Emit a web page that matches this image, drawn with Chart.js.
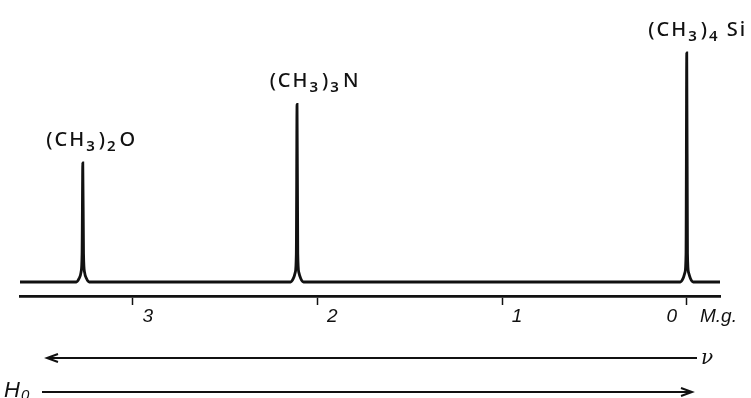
<!DOCTYPE html>
<html>
<head>
<meta charset="utf-8">
<script src="https://cdn.jsdelivr.net/npm/chart.js@4.4.1/dist/chart.umd.min.js"></script>
<style>
  html, body { margin: 0; padding: 0; background: #fff; }
  #wrap { width: 751px; height: 398px; position: relative; }
</style>
</head>
<body>
<div id="wrap"><canvas id="nmr"></canvas></div>
<script>
// spectrum trace: chemical shift (ppm) and signal intensity, read point by point
const ppmValues = [
  3.62, 3.305, 3.29, 3.28, 3.274, 3.27, 3.266, 3.26, 3.25, 3.235,
  2.145, 2.13, 2.12, 2.114, 2.11, 2.106, 2.10, 2.09, 2.075,
  0.035, 0.02, 0.01, 0.004, 0.0, -0.004, -0.01, -0.02, -0.035, -0.18
];
const intensityValues = [
  0, 0, 1.5, 4, 12, 51, 12, 4, 1.5, 0,
  0, 1.5, 4, 12, 76, 12, 4, 1.5, 0,
  0, 1.5, 4, 12, 98, 12, 4, 1.5, 0, 0
];

// axis ticks (ppm) and their labels
const tickValues = [3, 2, 1, 0];
const tickLabels = ['3', '2', '1', '0\u2002\u2002\u2009M.g.'];

// peaks and the compound names written above them
const peakShifts = [3.27, 2.11, 0];
const peakHeights = [51, 76, 98];
const peakNames = [
  [['(CH', 0], ['3', 1], [')', 0], ['2', 1], ['O', 0]],
  [['(CH', 0], ['3', 1], [')', 0], ['3', 1], ['N', 0]],
  [['(CH', 0], ['3', 1], [')', 0], ['4', 1], ['\u2009Si', 0]]
];

const INK = '#111';

function drawFormula(ctx, parts, cx, baseY) {
  const big = '500 20px "Noto Sans"';
  const small = '600 15px "Noto Sans"';
  ctx.save();
  ctx.letterSpacing = '2px';
  let w = 0;
  parts.forEach(([t, sub]) => { ctx.font = sub ? small : big; w += ctx.measureText(t).width + (sub ? 2 : 0); });
  let x = cx - w / 2;
  ctx.fillStyle = INK;
  ctx.textAlign = 'left';
  ctx.textBaseline = 'alphabetic';
  parts.forEach(([t, sub]) => {
    ctx.font = sub ? small : big;
    ctx.fillText(t, x, sub ? baseY + 5 : baseY);
    x += ctx.measureText(t).width + (sub ? 2 : 0);
  });
  ctx.restore();
}

function arrow(ctx, x1, x2, y, headAtLeft) {
  ctx.beginPath();
  ctx.moveTo(x1, y);
  ctx.lineTo(x2, y);
  const hx = headAtLeft ? x1 : x2;
  const d = headAtLeft ? 11 : -11;
  ctx.moveTo(hx + d, y - 4);
  ctx.lineTo(hx, y);
  ctx.lineTo(hx + d, y + 4);
  ctx.stroke();
}

const labelsPlugin = {
  id: 'nmrLabels',
  afterDraw(chart, args, opts) {
    const ctx = chart.ctx;
    const xs = chart.scales.x, ys = chart.scales.y;
    const area = chart.chartArea;

    // compound names over each peak
    peakShifts.forEach((s, i) => {
      const px = xs.getPixelForValue(s) + opts.nudge[i];
      const py = ys.getPixelForValue(peakHeights[i]) - 17;
      drawFormula(ctx, peakNames[i], px, py);
    });

    // frequency and field direction arrows
    ctx.save();
    ctx.strokeStyle = INK;
    ctx.lineWidth = 2;
    const yNu = area.bottom + 62;
    const yH = area.bottom + 96;
    arrow(ctx, area.left + 27, area.right - 23, yNu, true);
    arrow(ctx, area.left + 22, area.right - 28, yH, false);

    ctx.fillStyle = INK;
    ctx.font = 'italic 20px "DejaVu Serif"';
    ctx.textBaseline = 'middle';
    ctx.fillText('\u03bd', area.right - 19, yNu + 1);
    ctx.font = 'italic 22px "Liberation Sans"';
    ctx.textBaseline = 'alphabetic';
    ctx.fillText('H', 4, yH + 5);
    ctx.font = 'italic 15px "Liberation Sans"';
    ctx.fillText('0', 21, yH + 8);
    ctx.restore();
  }
};

new Chart(document.getElementById('nmr'), {
  type: 'line',
  data: {
    datasets: [{
      data: ppmValues.map((p, i) => ({ x: p, y: intensityValues[i] })),
      borderColor: INK,
      borderWidth: 2.8,
      pointRadius: 0,
      cubicInterpolationMode: 'monotone',
      fill: false
    }]
  },
  options: {
    responsive: true,
    maintainAspectRatio: false,
    animation: false,
    layout: { padding: { left: 20, right: 31, top: 46, bottom: 72 } },
    plugins: {
      legend: { display: false },
      tooltip: { enabled: false },
      nmrLabels: { nudge: [9, 18, 11] }
    },
    scales: {
      x: {
        type: 'linear',
        reverse: true,
        min: -0.18,
        max: 3.61,
        afterBuildTicks: s => { s.ticks = tickValues.map(v => ({ value: v })); },
        afterFit: s => { s.height = 30; s.paddingLeft = 0; s.paddingRight = 0; },
        grid: { drawOnChartArea: false, drawTicks: true, tickLength: 9, tickColor: INK, tickWidth: 1.5 },
        border: { display: true, color: INK, width: 2.8 },
        ticks: {
          color: INK,
          font: { family: 'Liberation Sans', size: 19, style: 'italic' },
          padding: 0,
          labelOffset: 15,
          maxRotation: 0,
          autoSkip: false,
          callback: v => tickLabels[tickValues.indexOf(v)]
        }
      },
      y: { display: false, min: -6, max: 101 }
    }
  },
  plugins: [labelsPlugin]
});
</script>
</body>
</html>
